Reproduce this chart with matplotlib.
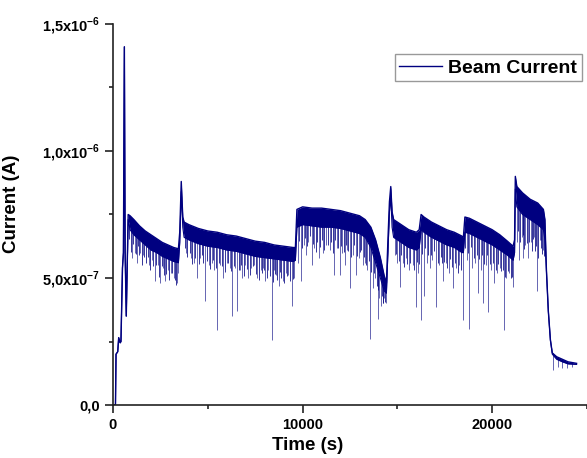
import numpy as np
import matplotlib
matplotlib.use("Agg")
import matplotlib.pyplot as plt
from matplotlib.ticker import FixedLocator, FixedFormatter

# ------------------------
# DATA (current in units of 1e-7 A)
# ------------------------
# dense noisy band: time knots with upper / lower edge of the band
band_t = [
    0, 130, 160, 250, 300, 380, 420, 500, 550, 600, 640, 700, 800, 900,
    1100, 1400, 1700, 2000, 2300, 2600, 2900, 3200, 3450, 3520, 3600, 3680, 3750,
    4000, 4500, 5000, 5500, 6000, 6500, 7000, 7500, 8000, 8500, 9000, 9500, 9620,
    9700, 10000, 10500, 11000, 11500, 12000, 12500, 13000, 13300, 13600, 13850,
    14100, 14300, 14420, 14500, 14580, 14650, 14720, 14800,
    15200, 15600, 16000, 16150, 16250, 16400, 16800, 17200, 17600, 18000, 18400,
    18480, 18560, 18800, 19200, 19600, 20000, 20400, 20800, 21100, 21180, 21220,
    21300, 21600, 22000, 22400, 22700, 22780,
    22860, 22960, 23070, 23170, 23400, 23700, 24000, 24450,
]
band_top = [
    0.0, 0.0, 2.0, 2.1, 2.65, 2.45, 2.5, 5.4, 6.0, 14.1, 6.0, 3.5, 7.5, 7.45,
    7.3, 7.05, 6.85, 6.7, 6.55, 6.4, 6.3, 6.2, 6.15, 6.8, 8.8, 7.4, 7.2,
    7.1, 6.95, 6.85, 6.8, 6.7, 6.65, 6.55, 6.45, 6.4, 6.3, 6.25, 6.2, 6.2,
    7.7, 7.8, 7.75, 7.75, 7.7, 7.65, 7.55, 7.45, 7.3, 7.0, 6.5,
    5.8, 5.1, 4.8, 6.5, 8.0, 8.6, 7.6, 7.3,
    7.1, 6.9, 6.8, 6.9, 7.5, 7.4, 7.2, 7.05, 6.9, 6.8, 6.65,
    6.6, 7.4, 7.35, 7.2, 7.05, 6.9, 6.7, 6.45, 6.25, 6.5, 9.0,
    8.6, 8.35, 8.1, 7.95, 7.7, 7.3,
    5.3, 3.7, 2.56, 2.05, 1.9, 1.8, 1.7, 1.64,
]
band_bottom = [
    0.0, 0.0, 2.0, 2.1, 2.65, 2.45, 2.5, 5.4, 6.0, 14.1, 6.0, 3.5, 7.3, 6.9,
    6.7, 6.5, 6.3, 6.1, 6.0, 5.85, 5.75, 5.65, 5.6, 6.4, 8.4, 7.0, 6.6,
    6.5, 6.35, 6.25, 6.2, 6.1, 6.05, 5.95, 5.85, 5.8, 5.75, 5.7, 5.65, 5.7,
    7.0, 7.1, 7.05, 7.0, 7.0, 6.95, 6.85, 6.75, 6.6, 6.2, 5.6,
    5.0, 4.5, 4.4, 6.0, 7.6, 8.2, 7.0, 6.6,
    6.4, 6.2, 6.1, 6.2, 6.9, 6.8, 6.6, 6.45, 6.3, 6.2, 6.0,
    6.0, 6.8, 6.75, 6.6, 6.45, 6.3, 6.1, 5.9, 5.7, 6.0, 8.5,
    7.8, 7.5, 7.3, 7.1, 6.9, 6.5,
    5.3, 3.7, 2.56, 2.0, 1.8, 1.7, 1.62, 1.6,
]

# single-sample drops below the band (absolute value)
dip_times = [
    1000, 1150, 1270, 1450, 1600, 1900, 2050, 2220, 2380, 2490, 2620, 2750, 2900, 3050, 3200, 3390, 3450,
    3850, 4100, 4250, 4440, 4600, 4870, 5050, 5200, 5350, 5500, 5650, 5820, 6000, 6150, 6300, 6450,
    6560, 6700, 6830, 6980, 7140, 7300, 7450, 7620, 7780, 7900, 8040, 8200, 8360, 8500, 8600, 8730,
    8940, 9100, 9250, 9420, 9550,
    9760, 9900, 10050, 10160, 10300, 10480, 10620, 10850, 11060, 11250, 11450, 11640, 11800, 11960,
    12100, 12220, 12350, 12490, 12650, 12800, 12950, 13170, 13300, 13420, 13540, 13700, 13800, 13970,
    14050, 14130, 14220, 14290, 14380,
    14850, 15000, 15130, 15300, 15450, 15600, 15800, 15980, 16080, 16240, 16400, 16540, 16700, 16850,
    17040, 17200, 17400, 17550, 17700, 17940, 18100, 18250, 18470, 18650, 18780, 18950, 19100, 19260,
    19400, 19520, 19650, 19790, 19950, 20100, 20250, 20400, 20630, 20750, 20900, 21110,
    21300, 21430, 21550, 21640, 21750, 21900, 22050, 22200, 22380, 22500, 22590, 22700,
    23210, 23450, 23700, 23950, 24200,
]
dip_values = [
    5.8, 6.0, 5.6, 6.0, 5.9, 5.5, 5.7, 4.9, 5.5, 4.8, 5.4, 4.9, 5.3, 5.2, 5.0, 4.8, 5.2,
    6.0, 5.8, 5.6, 5.0, 5.8, 4.1, 5.5, 5.6, 5.3, 2.95, 5.5, 5.0, 5.6, 5.4, 3.5, 5.4,
    3.7, 5.3, 5.0, 5.5, 5.0, 5.4, 5.5, 5.0, 5.3, 5.4, 4.9, 5.3, 2.56, 5.3, 5.1, 4.7,
    4.9, 5.2, 5.1, 3.9, 5.0,
    5.6, 4.9, 6.3, 5.9, 6.4, 5.5, 6.2, 5.8, 6.0, 6.3, 6.1, 5.1, 6.2, 5.1,
    6.0, 5.5, 6.1, 4.6, 5.9, 5.1, 5.8, 5.5, 5.6, 5.3, 2.6, 4.6, 5.0, 3.4,
    4.2, 3.9, 4.0, 4.2, 4.0,
    5.9, 5.6, 4.65, 5.6, 5.8, 5.3, 5.5, 3.86, 5.2, 3.35, 4.3, 5.6, 5.4, 5.7,
    3.86, 5.5, 4.9, 5.6, 5.2, 4.6, 5.4, 5.5, 3.35, 5.7, 3.0, 5.4, 5.6, 4.4,
    5.3, 4.0, 5.5, 3.66, 5.3, 4.8, 5.2, 5.4, 2.95, 5.0, 5.2, 4.65,
    6.4, 5.7, 6.6, 5.8, 6.3, 5.8, 6.4, 6.6, 4.5, 6.5, 6.5, 6.1,
    1.38, 1.5, 1.45, 1.45, 1.5,
]

# small drops that roughen the lower edge of the band (depth below band edge)
fuzz_times = [
    870, 960, 1080, 1210, 1330, 1390, 1520, 1660, 1740, 1820, 1970, 2130, 2290, 2440, 2560,
    2690, 2820, 2960, 3110, 3260, 3330,
    3780, 3920, 4040, 4170, 4330, 4520, 4680, 4760, 4940, 5120, 5280, 5420, 5580, 5730,
    5900, 6080, 6220, 6380, 6620, 6760, 6900, 7060, 7220, 7380, 7530, 7700, 7840, 7970,
    8120, 8280, 8430, 8560, 8660, 8800, 8870, 9020, 9170, 9320, 9490,
    9820, 9960, 10110, 10230, 10380, 10560, 10700, 10780, 10930, 11000, 11150, 11330, 11520,
    11580, 11720, 11880, 12040, 12160, 12280, 12420, 12570, 12720, 12870, 13030, 13100,
    13240, 13360, 13480, 13620, 13760, 13900, 14000, 14180, 14260, 14340,
    14900, 15060, 15200, 15370, 15520, 15680, 15880, 16020, 16160, 16320, 16460, 16620,
    16780, 16920, 17120, 17280, 17340, 17480, 17630, 17800, 17870, 18030, 18180, 18340,
    18560, 18710, 18860, 19020, 19180, 19330, 19460, 19580, 19720, 19880, 20030, 20180,
    20320, 20480, 20560, 20690, 20830, 20980, 21050,
    21350, 21480, 21600, 21700, 21820, 21960, 22100, 22150, 22260, 22320, 22440, 22550,
    22640, 22730,
]
fuzz_depths = [
    0.5, 0.8, 0.4, 0.7, 0.3, 0.6, 0.9, 0.5, 0.7, 0.4, 0.8, 0.6, 0.5, 0.9, 0.4,
    0.7, 0.6, 0.8, 0.5, 0.7, 0.9,
    0.4, 0.7, 0.5, 0.9, 0.6, 0.8, 0.4, 0.7, 0.6, 0.9, 0.5, 0.8, 0.6, 0.7,
    0.9, 0.5, 0.8, 0.6, 0.7, 0.5, 0.9, 0.6, 0.8, 0.4, 0.7, 0.9, 0.6, 0.5,
    0.8, 0.7, 0.9, 0.6, 0.8, 0.5, 0.7, 0.9, 0.6, 0.8, 0.7,
    0.6, 0.9, 0.5, 0.8, 0.4, 0.7, 1.0, 0.6, 0.8, 0.5, 0.9, 0.7, 0.6,
    1.0, 0.5, 0.8, 0.7, 0.9, 0.6, 0.8, 1.0, 0.5, 0.9, 0.7, 0.6,
    0.8, 1.0, 0.7, 0.9, 0.6, 0.8, 0.7, 0.5, 0.6, 0.4,
    0.6, 0.8, 0.5, 0.9, 0.7, 0.6, 0.8, 0.5, 0.7, 0.9, 0.6, 0.8,
    0.7, 0.5, 0.9, 0.6, 0.8, 0.7, 0.9, 0.5, 0.8, 0.6, 0.9, 0.7,
    0.6, 0.8, 0.5, 0.9, 0.7, 0.8, 0.6, 0.9, 0.5, 0.8, 0.7, 0.9,
    0.6, 0.8, 0.7, 0.9, 0.6, 0.8, 0.7,
    0.9, 1.2, 0.8, 1.3, 1.0, 0.9, 1.2, 0.7, 1.1, 0.9, 1.3, 0.8,
    1.0, 0.9,
]

x_ticks = [0, 10000, 20000]
x_tick_labels = ["0", "10000", "20000"]
x_minor = [5000, 15000, 25000]
y_ticks = [0.0, 5e-7, 1e-6, 1.5e-6]
y_tick_labels = ["0,0", r"5,0x10$^{\mathbf{-7}}$", r"1,0x10$^{\mathbf{-6}}$", r"1,5x10$^{\mathbf{-6}}$"]
y_minor = [2.5e-7, 7.5e-7, 1.25e-6]

SCALE = 1e-7
t = np.array(band_t, dtype=float)
top = np.array(band_top) * SCALE
bottom = np.array(band_bottom) * SCALE
dip_t = np.array(dip_times, dtype=float)
dip_v = np.array(dip_values) * SCALE
fuzz_t = np.array(fuzz_times, dtype=float)
fuzz_base = np.interp(fuzz_t, t, bottom)
fuzz_v = fuzz_base - np.array(fuzz_depths) * SCALE

# ------------------------
# STYLE
# ------------------------
plt.rcParams["font.family"] = ["Liberation Sans", "DejaVu Sans"]
plt.rcParams["font.weight"] = "bold"
plt.rcParams["mathtext.fontset"] = "custom"
plt.rcParams["mathtext.rm"] = "Liberation Sans:bold"
plt.rcParams["mathtext.bf"] = "Liberation Sans:bold"

AXIS_COLOR = "#222222"
LINE_COLOR = "#000080"

fig = plt.figure(figsize=(5.87, 4.58), dpi=100)
ax = fig.add_axes([0.1925, 0.1157, 0.8075, 0.832])

# band of the noisy signal
ax.fill_between(t, bottom, top, color=LINE_COLOR, lw=0)
ax.plot(t, top, color=LINE_COLOR, lw=1.0, label="Beam Current")
ax.plot(t, bottom, color=LINE_COLOR, lw=0.8)
# small drops just under the band
ax.vlines(fuzz_t, fuzz_v, fuzz_base + 0.1 * SCALE,
          color=LINE_COLOR, lw=0.7, alpha=0.8)
# deeper drops: thin lines from the dip value up into the band
ax.vlines(dip_t, dip_v, np.interp(dip_t, t, bottom) + 0.1 * SCALE,
          color=LINE_COLOR, lw=0.6, alpha=0.7)

ax.set_xlim(0, 25000)
ax.set_ylim(0, 1.5e-6)

ax.xaxis.set_major_locator(FixedLocator(x_ticks))
ax.xaxis.set_major_formatter(FixedFormatter(x_tick_labels))
ax.xaxis.set_minor_locator(FixedLocator(x_minor))
ax.yaxis.set_major_locator(FixedLocator(y_ticks))
ax.yaxis.set_major_formatter(FixedFormatter(y_tick_labels))
ax.yaxis.set_minor_locator(FixedLocator(y_minor))

for side in ("top", "right"):
    ax.spines[side].set_visible(False)
for side in ("left", "bottom"):
    ax.spines[side].set_color(AXIS_COLOR)
    ax.spines[side].set_linewidth(1.2)

ax.tick_params(which="major", direction="out", length=5.5, width=1.2,
               color=AXIS_COLOR, labelsize=10.5, pad=3.5)
ax.tick_params(which="minor", direction="out", length=3, width=1.2,
               color=AXIS_COLOR)
for lab in ax.get_xticklabels() + ax.get_yticklabels():
    lab.set_fontweight("bold")

ax.set_xlabel("Time (s)", fontsize=13.5, fontweight="bold")
ax.set_ylabel("Current (A)", fontsize=13.5, fontweight="bold")
ax.xaxis.set_label_coords(0.411, -0.085)
ax.yaxis.set_label_coords(-0.196, 0.528)

leg = ax.legend(loc="upper right", bbox_to_anchor=(0.989, 0.921),
                borderaxespad=0, fancybox=False, frameon=True,
                prop={"size": 14, "weight": "bold"},
                handlelength=2.2, handletextpad=0.3, borderpad=0.25)
leg.get_frame().set_edgecolor("#808080")
leg.get_frame().set_linewidth(1.0)

fig.savefig("out.png", dpi=100)
